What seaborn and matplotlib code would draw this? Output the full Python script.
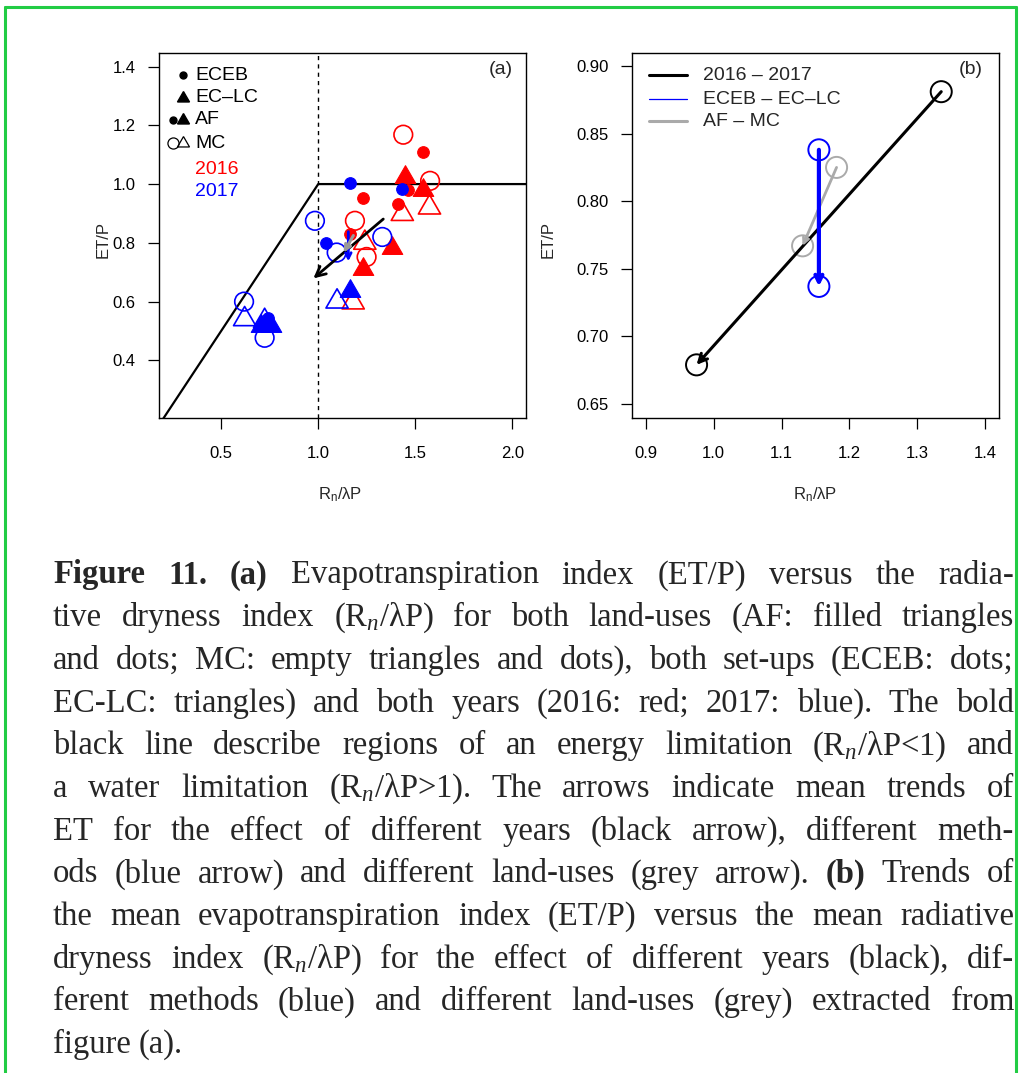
import numpy as np
import pandas as pd
import matplotlib
matplotlib.use("Agg")
import matplotlib.pyplot as plt
from matplotlib.markers import MarkerStyle
import seaborn as sns

sns.set_style("ticks")
plt.rcParams['font.family'] = ['Liberation Sans', 'DejaVu Sans']
plt.rcParams['mathtext.fontset'] = 'custom'
plt.rcParams['mathtext.rm'] = 'Liberation Serif'
plt.rcParams['mathtext.it'] = 'Liberation Serif:italic'

# ---------------- data (panel a) ----------------
af_eceb_2016_x = [1.537, 1.229, 1.409, 1.464, 1.163]
af_eceb_2016_y = [1.108, 0.952, 0.932, 0.980, 0.830]
af_eclc_2016_x = [1.447, 1.537, 1.378, 1.232]
af_eclc_2016_y = [1.025, 0.980, 0.784, 0.710]
mc_eceb_2016_x = [1.438, 1.576, 1.189, 1.249]
mc_eceb_2016_y = [1.168, 1.011, 0.875, 0.752]
mc_eclc_2016_x = [1.433, 1.573, 1.180, 1.240]
mc_eclc_2016_y = [0.898, 0.920, 0.597, 0.800]

af_eceb_2017_x = [1.163, 1.430, 1.039, 0.742]
af_eceb_2017_y = [1.002, 0.983, 0.801, 0.545]
af_eclc_2017_x = [1.163, 0.707, 0.759]
af_eclc_2017_y = [0.636, 0.517, 0.517]
mc_eceb_2017_x = [0.983, 1.330, 1.095, 0.618, 0.724]
mc_eceb_2017_y = [0.875, 0.820, 0.767, 0.600, 0.477]
mc_eclc_2017_x = [1.097, 0.621, 0.724]
mc_eclc_2017_y = [0.600, 0.540, 0.534]

# Budyko-type limits
limit_x = [0.0, 1.0, 2.5]
limit_y = [0.0, 1.0, 1.0]

# mean trends (start -> end)
years_x = [1.335, 0.975]
years_y = [0.881, 0.679]
methods_x = [1.155, 1.155]
methods_y = [0.838, 0.737]
landuse_x = [1.181, 1.131]
landuse_y = [0.825, 0.767]

xticks_a = [0.5, 1.0, 1.5, 2.0]
yticks_a = [0.4, 0.6, 0.8, 1.0, 1.2, 1.4]
xticks_b = [0.9, 1.0, 1.1, 1.2, 1.3, 1.4]
yticks_b = [0.65, 0.70, 0.75, 0.80, 0.85, 0.90]

legend_b_labels = ["2016 – 2017", "ECEB – EC–LC", "AF – MC"]

caption_lines = [
    "**Figure** **11.** **(a)** Evapotranspiration index (ET/P) versus the radia-",
    "tive dryness index (R$_n$/λP) for both land-uses (AF: filled triangles",
    "and dots; MC: empty triangles and dots), both set-ups (ECEB: dots;",
    "EC-LC: triangles) and both years (2016: red; 2017: blue). The bold",
    "black line describe regions of an energy limitation (R$_n$/λP<1) and",
    "a water limitation (R$_n$/λP>1). The arrows indicate mean trends of",
    "ET for the effect of different years (black arrow), different meth-",
    "ods (blue arrow) and different land-uses (grey arrow). **(b)** Trends of",
    "the mean evapotranspiration index (ET/P) versus the mean radiative",
    "dryness index (R$_n$/λP) for the effect of different years (black), dif-",
    "ferent methods (blue) and different land-uses (grey) extracted from",
    "figure (a).",
]

RED = '#ff0000'
BLUE = '#0000ff'
GREY = '#aaaaaa'
TRI = MarkerStyle((3, 0, 0))  # equilateral triangle, apex up

W, H = 1019, 1073
fig = plt.figure(figsize=(W / 100, H / 100), dpi=100)
fig.patch.set_facecolor('white')

def px_axes(l, r, t, b):
    return fig.add_axes([l / W, 1 - b / H, (r - l) / W, (b - t) / H])

axA = px_axes(159, 526, 53, 418)
axB = px_axes(632, 999, 53, 418)

TICK_FS = 12
LEG_FS = 14

for ax in (axA, axB):
    for s in ax.spines.values():
        s.set_linewidth(1.0)
        s.set_color('black')
    ax.tick_params(direction='out', length=8, width=0.9, labelsize=TICK_FS, colors='black')
    ax.tick_params(axis='x', pad=12)
    ax.tick_params(axis='y', pad=9)

# ---------------- panel (a) ----------------
ax = axA
ax.plot(limit_x, limit_y, color='black', lw=1.6, zorder=2)
ax.axvline(1.0, color='black', lw=1.0, ls=(0, (3, 3)), zorder=1)

def scat(xs, ys, marker, color, filled, size):
    df = pd.DataFrame({'x': xs, 'y': ys})
    if filled:
        sns.scatterplot(data=df, x='x', y='y', ax=ax, marker=marker, s=size,
                        color=color, edgecolor=color, linewidth=0.8, zorder=3, legend=False)
    else:
        sns.scatterplot(data=df, x='x', y='y', ax=ax, marker=marker, s=size,
                        facecolor='none', edgecolor=color, linewidth=1.2, zorder=3, legend=False)

scat(mc_eceb_2016_x, mc_eceb_2016_y, 'o', RED, False, 180)
scat(mc_eclc_2016_x, mc_eclc_2016_y, TRI, RED, False, 340)
scat(af_eceb_2016_x, af_eceb_2016_y, 'o', RED, True, 70)
scat(af_eclc_2016_x, af_eclc_2016_y, TRI, RED, True, 290)
scat(mc_eceb_2017_x, mc_eceb_2017_y, 'o', BLUE, False, 180)
scat(mc_eclc_2017_x, mc_eclc_2017_y, TRI, BLUE, False, 340)
scat(af_eceb_2017_x, af_eceb_2017_y, 'o', BLUE, True, 70)
scat(af_eclc_2017_x, af_eclc_2017_y, TRI, BLUE, True, 290)

def arrow(a, xs, ys, color, lw, hl=0.7, hw=0.35):
    a.annotate('', xy=(xs[1], ys[1]), xytext=(xs[0], ys[0]),
               arrowprops=dict(arrowstyle=f'->,head_length={hl},head_width={hw}',
                               color=color, lw=lw, shrinkA=0, shrinkB=0),
               zorder=5)

arrow(ax, years_x, years_y, 'black', 2.0)
arrow(ax, methods_x, methods_y, BLUE, 2.0, 0.4, 0.2)
arrow(ax, landuse_x, landuse_y, '#999999', 2.2, 0.4, 0.2)

ax.set_xlim(0.18, 2.07)
ax.set_ylim(0.204, 1.446)
ax.set_xticks(xticks_a)
ax.set_xticklabels([f"{v:.1f}" for v in xticks_a])
ax.set_yticks(yticks_a)
ax.set_yticklabels([f"{v:.1f}" for v in yticks_a])
ax.set_xlabel('')
ax.set_ylabel('')

# legend (a)
def lx(p):
    return (p - 159) / 367
def ly(p):
    return (418 - p) / 365

ax.plot([lx(183)], [ly(75)], 'o', ms=5, color='black', transform=ax.transAxes, clip_on=False)
ax.plot([lx(183)], [ly(98)], marker=TRI, ms=10, color='black', transform=ax.transAxes, clip_on=False)
ax.plot([lx(173)], [ly(120)], 'o', ms=5, color='black', transform=ax.transAxes, clip_on=False)
ax.plot([lx(183)], [ly(120)], marker=TRI, ms=10, color='black', transform=ax.transAxes, clip_on=False)
ax.plot([lx(173)], [ly(143)], 'o', ms=8, mfc='none', mec='black', mew=0.9, transform=ax.transAxes, clip_on=False)
ax.plot([lx(183)], [ly(143)], marker=TRI, ms=10, mfc='none', mec='black', mew=0.9, transform=ax.transAxes, clip_on=False)
for lab, yy, col in [("ECEB", 75, 'black'), ("EC–LC", 98, 'black'), ("AF", 120, 'black'),
                     ("MC", 143, 'black'), ("2016", 169, RED), ("2017", 191, BLUE)]:
    ax.text(lx(195), ly(yy), lab, color=col, fontsize=LEG_FS, ha='left', va='center',
            transform=ax.transAxes)
ax.text(lx(513), ly(70), "(a)", fontsize=LEG_FS, ha='right', va='center', transform=ax.transAxes)

# ---------------- panel (b) ----------------
ax = axB
def lxb(p):
    return (p - 632) / 367

arrow(ax, years_x, years_y, 'black', 2.2, 0.6, 0.3)
arrow(ax, landuse_x, landuse_y, GREY, 2.0, 0.4, 0.2)
arrow(ax, methods_x, methods_y, BLUE, 3.0, 0.5, 0.25)

for xs, ys, col in [(years_x, years_y, 'black'), (methods_x, methods_y, BLUE), (landuse_x, landuse_y, GREY)]:
    sns.scatterplot(x=xs, y=ys, ax=ax, marker='o', s=230, facecolor='none',
                    edgecolor=col, linewidth=1.4, zorder=4, legend=False)

ax.set_xlim(0.88, 1.42)
ax.set_ylim(0.6397, 0.9096)
ax.set_xticks(xticks_b)
ax.set_xticklabels([f"{v:.1f}" for v in xticks_b])
ax.set_yticks(yticks_b)
ax.set_yticklabels([f"{v:.2f}" for v in yticks_b])
ax.set_xlabel('')
ax.set_ylabel('')

for lab, yy, col, lw in zip(legend_b_labels, [75, 99, 121], ['black', BLUE, GREY], [2.2, 0.9, 2.2]):
    ax.plot([lxb(649), lxb(687)], [ly(yy), ly(yy)], color=col, lw=lw, transform=ax.transAxes, clip_on=False)
    ax.text(lxb(703), ly(yy), lab, fontsize=LEG_FS, ha='left', va='center', transform=ax.transAxes)
ax.text(lxb(983), ly(70), "(b)", fontsize=LEG_FS, ha='right', va='center', transform=ax.transAxes)

# axis titles
xlab = r'R$_\mathregular{n}$/λP'
fig.text(340 / W, 1 - 495 / H, xlab, fontsize=TICK_FS, ha='center', va='center')
fig.text(815 / W, 1 - 495 / H, xlab, fontsize=TICK_FS, ha='center', va='center')
fig.text(103 / W, 1 - 240 / H, 'ET/P', fontsize=TICK_FS, ha='center', va='center', rotation=90)
fig.text(548 / W, 1 - 240 / H, 'ET/P', fontsize=TICK_FS, ha='center', va='center', rotation=90)

# green frame
frame_kw = dict(color='#22cc44', lw=2.2, transform=fig.transFigure, clip_on=False)
fig.add_artist(plt.Line2D([5 / W, 1016 / W], [1 - 7 / H, 1 - 7 / H], **frame_kw))
fig.add_artist(plt.Line2D([5 / W, 5 / W], [1 - 7 / H, 0], **frame_kw))
fig.add_artist(plt.Line2D([1016 / W, 1016 / W], [1 - 7 / H, 0], **frame_kw))

# ---------------- caption (justified) ----------------
CAP_FS = 23.5
LEFT, RIGHT = 53, 1014
base0, step = 583.5, 42.7
fig.canvas.draw()
renderer = fig.canvas.get_renderer()
for i, line in enumerate(caption_lines):
    yb = 1 - (base0 + i * step) / H
    texts = []
    for tok in line.split(' '):
        bold = tok.startswith('**') and tok.endswith('**')
        s = tok.strip('*') if bold else tok
        t = fig.text(0, yb, s, fontsize=CAP_FS, family='Liberation Serif',
                     weight='bold' if bold else 'normal', ha='left', va='baseline')
        texts.append(t)
    widths = [t.get_window_extent(renderer).width for t in texts]
    if i == len(caption_lines) - 1:
        gap = 0.25 * CAP_FS / 0.72
    else:
        gap = (RIGHT - LEFT - sum(widths)) / (len(texts) - 1)
    x = LEFT
    for t, w in zip(texts, widths):
        t.set_x(x / W)
        x += w + gap

fig.savefig('out.png', dpi=100, facecolor='white')
